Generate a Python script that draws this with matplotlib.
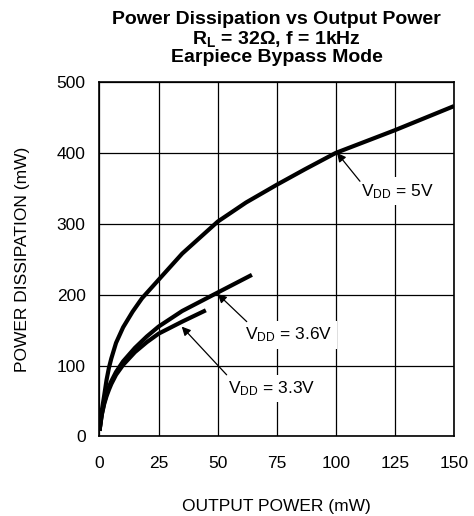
import matplotlib
matplotlib.use("Agg")
import matplotlib.pyplot as plt

plt.rcParams['font.family'] = ['Liberation Sans', 'DejaVu Sans']
plt.rcParams['mathtext.default'] = 'regular'

# Data (output power mW -> dissipation mW)
x_5v = [0, 0.5, 1, 2, 3, 4, 5, 7, 10, 14, 18, 25, 35, 50, 62, 75, 87, 100, 125, 150]
y_5v = [8, 22, 37, 58, 80, 97, 110, 132, 154, 176, 195, 221, 258, 303, 330, 355, 377, 400, 432, 466]

x_36v = [0, 0.5, 1, 2, 3, 4, 5, 7, 10, 15, 20, 25, 35, 50, 64.5]
y_36v = [8, 20, 32, 48, 60, 70, 78, 91, 106, 125, 141, 155, 177, 203, 228]

x_33v = [0, 0.5, 1, 2, 3, 4, 5, 7, 10, 15, 20, 25, 35, 45]
y_33v = [8, 20, 31, 46, 57, 66, 74, 87, 101, 119, 133, 145, 162, 178]

x_ticks = [0, 25, 50, 75, 100, 125, 150]
y_ticks = [0, 100, 200, 300, 400, 500]

labels = ["V$_{DD}$ = 5V", "V$_{DD}$ = 3.6V", "V$_{DD}$ = 3.3V"]
arrow_heads = [(100.5, 400), (50, 201), (34.8, 155)]
arrow_tails = [(110.2, 360), (62.3, 162), (53.8, 87)]
label_pos = [(110.5, 346), (61.6, 143), (54.5, 68)]

fig = plt.figure(figsize=(4.74, 5.16), dpi=100)
ax = fig.add_axes([0.2099, 0.1541, 0.7479, 0.6870])

for xs, ys in [(x_5v, y_5v), (x_36v, y_36v), (x_33v, y_33v)]:
    ax.plot(xs, ys, color='black', lw=3.0, solid_capstyle='butt', zorder=3)

ax.set_xlim(0, 150)
ax.set_ylim(0, 500)
ax.set_xticks(x_ticks)
ax.set_yticks(y_ticks)
ax.tick_params(length=0, labelsize=12.5)
ax.tick_params(axis='x', pad=14)
ax.tick_params(axis='y', pad=10)
ax.grid(True, color='black', lw=0.9)
ax.set_axisbelow(True)
for s in ax.spines.values():
    s.set_linewidth(1.2)

ax.set_xlabel("OUTPUT POWER (mW)", fontsize=12.5, labelpad=20)
ax.set_ylabel("POWER DISSIPATION (mW)", fontsize=12.5, labelpad=19)

for lab, head, tail, pos in zip(labels, arrow_heads, arrow_tails, label_pos):
    ax.text(pos[0], pos[1], lab, fontsize=12.5, ha='left', va='center', zorder=4,
            bbox=dict(boxstyle='square,pad=0.25', fc='white', ec='none'))
    ax.annotate('', xy=head, xytext=tail, zorder=5,
                arrowprops=dict(arrowstyle='-|>', color='black', lw=0.9,
                                mutation_scale=13, shrinkA=0, shrinkB=0))

cx = 0.2099 + 0.7479 / 2
fig.text(cx, 1 - 19 / 516, "Power Dissipation vs Output Power", ha='center', va='center',
         fontsize=14, fontweight='bold')
fig.text(cx, 1 - 39 / 516, "R$_L$ = 32Ω, f = 1kHz", ha='center', va='center',
         fontsize=14, fontweight='bold')
fig.text(cx, 1 - 58 / 516, "Earpiece Bypass Mode", ha='center', va='center',
         fontsize=14, fontweight='bold')

fig.savefig("out.png", dpi=100)
